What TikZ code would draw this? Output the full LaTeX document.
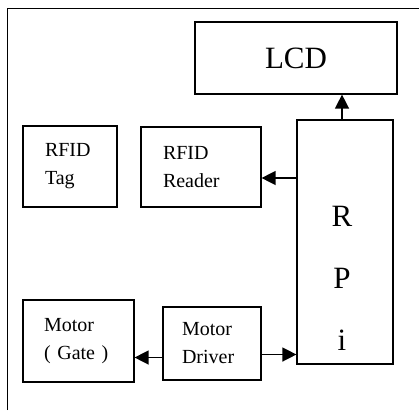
\documentclass[tikz,border=0pt]{standalone}
\usepackage{fontspec}
\setmainfont{Liberation Serif}
\usepackage{tikz}
\usetikzlibrary{arrows.meta, positioning, calc}
\tikzset{
  blockbox/.style={draw=black, line width=1.2pt, inner ysep=0pt, align=left},
  bigtext/.style={font=\fontsize{31}{40}\selectfont},
  smalltext/.style={font=\fontsize{20}{28}\selectfont},
  sig/.style={line width=1.4pt, -{Triangle[length=14pt,width=14pt]}}
}

\begin{document}
\begin{tikzpicture}[x=1pt, y=-1pt]
            \useasboundingbox (0,0) rectangle (419,410);
            % outer frame (runs off the right and bottom edge)
            \draw[line width=1pt] (7,410) -- (7,8) -- (419,8);

            \node[blockbox, bigtext, minimum width=202pt, minimum height=72pt, align=center] (lcd) at (296,58) {LCD};
            \node[blockbox, minimum width=96pt, minimum height=244pt] (rpi) at (345,242) {};
            \node[font=\fontsize{31}{62}\selectfont, align=center, inner sep=0pt] (rpitext) at (342,278) {R\\P\\i};

            \node[blockbox, smalltext, text width=50pt, inner xsep=22pt, minimum height=81pt] (tag) at (70,166.5) {RFID\\Tag};
            \node[blockbox, smalltext, text width=76pt, inner xsep=22pt, minimum height=80pt] (reader) at (201,167) {RFID\\Reader};

            \node[blockbox, smalltext, text width=69pt, inner xsep=21pt, minimum height=82pt] (motor) at (78.5,341) {Motor\\( Gate )};
            \node[blockbox, smalltext, text width=60pt, inner xsep=19pt, minimum height=73pt] (driver) at (212,343.5) {Motor\\Driver};

            % connections
            \draw[sig] ([xshift=-3pt]rpi.north) -- ([xshift=-3pt]rpi.north |- lcd.south);
            \draw[sig] ([yshift=-11pt]reader.east -| rpi.west) -- ([yshift=-11pt]reader.east);
            \draw[sig] ([yshift=-14pt]driver.west) -- ([yshift=-14pt]driver.west -| motor.east);
            \draw[sig] ([yshift=-11pt]driver.east) -- ([yshift=-11pt]driver.east -| rpi.west);
        \end{tikzpicture}
\end{document}
